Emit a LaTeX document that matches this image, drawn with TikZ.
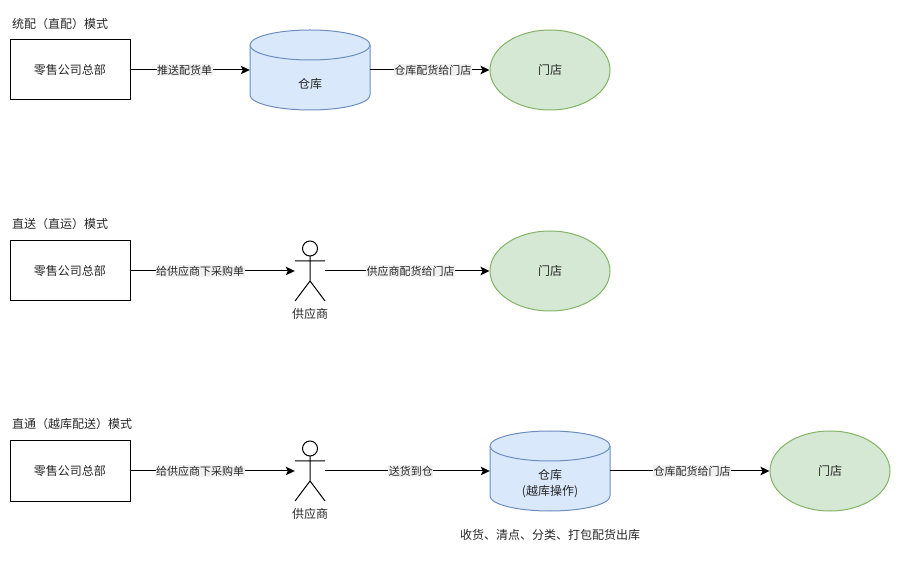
\documentclass[tikz,border=0pt]{standalone}
\usepackage{fontspec}
\setmainfont{Noto Sans CJK SC}
\usetikzlibrary{arrows.meta,shapes.geometric}
\definecolor{bluefill}{HTML}{DAE8FC}
\definecolor{blueline}{HTML}{6C8EBF}
\definecolor{greenfill}{HTML}{D5E8D4}
\definecolor{greenline}{HTML}{82B366}
\definecolor{ink}{HTML}{262626}
\definecolor{labbg}{HTML}{F1F1F1}
\tikzset{
  every node/.style={font=\fontsize{12pt}{15.5pt}\selectfont,text=ink},
  hqbox/.style={draw=black,line width=1pt,fill=white,minimum width=120pt,minimum height=60pt,inner sep=0pt},
  store/.style={draw=greenline,fill=greenfill,line width=1pt,ellipse,minimum width=120pt,minimum height=80pt,inner sep=0pt},
  cylslot/.style={minimum width=120pt,minimum height=80pt,inner sep=0pt,align=center},
  cylbody/.style={draw=blueline,fill=bluefill,line width=1pt},
  actorslot/.style={minimum width=30pt,minimum height=60pt,inner sep=0pt},
  actorline/.style={draw=black,line width=1pt},
  flow/.style={draw=black,line width=1pt,-{Stealth[length=9pt,width=8.5pt,inset=2pt]}},
  lab/.style={font=\fontsize{11pt}{14pt}\selectfont,fill=labbg,inner sep=0.6pt},
  head/.style={anchor=west,inner sep=0pt},
}
% cylinder centred at #1,#2 (picture units, y up)
\newcommand{\cylshape}[2]{%
  \path[cylbody] (#1-60,#2+25) -- (#1-60,#2-25) arc[x radius=60,y radius=15,start angle=180,end angle=360]
    -- (#1+60,#2+25) arc[x radius=60,y radius=15,start angle=0,end angle=180] -- cycle;
  \path[cylbody] (#1-60,#2+25) arc[x radius=60,y radius=15,start angle=180,end angle=360];
}
% actor centred at #1,#2
\newcommand{\actorshape}[2]{%
  \draw[actorline] (#1,#2+22.5) circle[radius=7.5];
  \draw[actorline] (#1,#2+15) -- (#1,#2-10) (#1-15,#2+10) -- (#1+15,#2+10)
    (#1-15,#2-30) -- (#1,#2-10) -- (#1+15,#2-30);
}
\begin{document}
\begin{tikzpicture}[x=1pt,y=1pt]
\useasboundingbox (0,0) rectangle (900,560);
% row 1
\node[head] (t1) at (12,536) {统配（直配）模式};
\node[hqbox] (a1) at (70,490) {零售公司总部};
\cylshape{310}{490}
\node[cylslot] (b1) at (310,490) {};
\node (b1t) at (310,476.5) {仓库};
\node[store] (c1) at (550,490) {门店};
\draw[flow] (a1) -- (b1) node[lab,pos=0.454] (l1a) {推送配货单};
\draw[flow] (b1) -- (c1) node[lab,pos=0.525] (l1b) {仓库配货给门店};
% row 2
\node[head] (t2) at (12,336) {直送（直运）模式};
\node[hqbox] (a2) at (70,289) {零售公司总部};
\actorshape{310}{289}
\node[actorslot] (p2) at (310,289) {};
\node (p2t) at (310,246) {供应商};
\node[store] (c2) at (550,289) {门店};
\draw[flow] (a2) -- (p2) node[lab,pos=0.424] (l2a) {给供应商下采购单};
\draw[flow] (p2) -- (c2) node[lab,pos=0.52] (l2b) {供应商配货给门店};
% row 3
\node[head] (t3) at (12,136) {直通（越库配送）模式};
\node[hqbox] (a3) at (70,89) {零售公司总部};
\actorshape{310}{89}
\node[actorslot] (p3) at (310,89) {};
\node (p3t) at (310,46) {供应商};
\cylshape{550}{89}
\node[cylslot] (b3) at (550,89) {};
\node[align=center] (b3t) at (550,76.5) {仓库\\(越库操作)};
\node[store] (c3) at (830,89) {门店};
\node (n3) at (550,25) {收货、清点、分类、打包配货出库};
\draw[flow] (a3) -- (p3) node[lab,pos=0.424] (l3a) {给供应商下采购单};
\draw[flow] (p3) -- (b3) node[lab,pos=0.52] (l3b) {送货到仓};
\draw[flow] (b3) -- (c3) node[lab,pos=0.515] (l3c) {仓库配货给门店};
\end{tikzpicture}
\end{document}
